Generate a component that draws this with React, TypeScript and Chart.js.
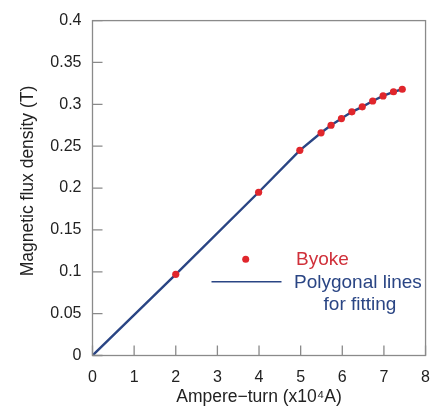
import React, { useEffect, useRef } from "react";
import { Chart, registerables } from "chart.js";

Chart.register(...registerables);

const ampereTurn = [2.0, 3.99, 4.98, 5.49, 5.73, 5.98, 6.23, 6.48, 6.73, 6.98, 7.23, 7.44];
const fluxDensity = [0.097, 0.195, 0.245, 0.266, 0.275, 0.283, 0.291, 0.297, 0.304, 0.31, 0.315, 0.318];
const fitX = [0, 2.0, 3.99, 4.98, 5.49, 5.73, 5.98, 6.23, 6.48, 6.73, 6.98, 7.23, 7.44];
const fitY = [0, 0.097, 0.195, 0.245, 0.266, 0.275, 0.283, 0.291, 0.297, 0.304, 0.31, 0.315, 0.318];
const legendLabels = ["Byoke", "Polygonal lines", "for fitting"];
const xTitle = "Ampere\u2212turn (x10\u2074A)";
const yTitle = "Magnetic flux density (T)";

const RED = "#e0262c";
const NAVY = "#2a4584";
const FONT = "'Liberation Sans', Arial, sans-serif";

const boxPlugin = {
  id: "boxTicks",
  afterDraw(chart: any) {
    const { ctx, chartArea, scales } = chart;
    const { left, right, top, bottom } = chartArea;
    ctx.save();
    ctx.strokeStyle = "#8a8a8a";
    ctx.lineWidth = 1.3;
    ctx.strokeRect(left, top, right - left, bottom - top);
    const tl = 10;
    ctx.beginPath();
    scales.x.ticks.forEach((t: any) => {
      const px = scales.x.getPixelForValue(t.value);
      ctx.moveTo(px, bottom);
      ctx.lineTo(px, bottom - tl);
    });
    scales.y.ticks.forEach((t: any) => {
      const py = scales.y.getPixelForValue(t.value);
      ctx.moveTo(left, py);
      ctx.lineTo(left + tl, py);
    });
    ctx.stroke();

    // axis titles
    ctx.fillStyle = "#222";
    ctx.font = `17.5px ${FONT}`;
    ctx.textAlign = "center";
    ctx.textBaseline = "middle";
    ctx.fillText(xTitle, (left + right) / 2, 397.5);
    ctx.save();
    ctx.translate(28, 181);
    ctx.rotate(-Math.PI / 2);
    ctx.fillText(yTitle, 0, 0);
    ctx.restore();

    // legend
    ctx.fillStyle = RED;
    ctx.beginPath();
    ctx.arc(245.7, 259.3, 3.5, 0, Math.PI * 2);
    ctx.fill();
    ctx.strokeStyle = NAVY;
    ctx.lineWidth = 1.6;
    ctx.beginPath();
    ctx.moveTo(211.5, 281.7);
    ctx.lineTo(281.5, 281.7);
    ctx.stroke();
    ctx.font = `19px ${FONT}`;
    ctx.textBaseline = "middle";
    ctx.textAlign = "left";
    ctx.fillStyle = "#d0303a";
    ctx.fillText(legendLabels[0], 296, 259.5);
    ctx.fillStyle = NAVY;
    ctx.fillText(legendLabels[1], 294, 282.5);
    ctx.textAlign = "center";
    ctx.fillText(legendLabels[2], 360, 305);
    ctx.restore();
  },
};

const fmt = (v: any) => String(Number(Number(v).toFixed(2)));

export default function App() {
  const ref = useRef<HTMLCanvasElement>(null);
  useEffect(() => {
    document.body.style.margin = "0";
    const chart = new Chart(ref.current!, {
      type: "scatter",
      data: {
        datasets: [
          {
            label: "Byoke",
            data: ampereTurn.map((x, i) => ({ x, y: fluxDensity[i] })),
            backgroundColor: RED,
            borderColor: RED,
            pointRadius: 3.6,
            pointBorderWidth: 0,
            showLine: false,
            order: 0,
          },
          {
            label: "Polygonal lines for fitting",
            data: fitX.map((x, i) => ({ x, y: fitY[i] })),
            borderColor: NAVY,
            borderWidth: 2.4,
            pointRadius: 0,
            showLine: true,
            order: 1,
          },
        ],
      },
      options: {
        animation: false,
        responsive: true,
        maintainAspectRatio: false,
        layout: { padding: { top: 17, right: 9.5, left: 0, bottom: 0 } },
        plugins: { legend: { display: false }, tooltip: { enabled: false } },
        scales: {
          x: {
            type: "linear",
            min: 0,
            max: 8,
            afterFit(s: any) {
              s.height = 51.5;
            },
            ticks: { stepSize: 1, padding: 12, color: "#222", font: { family: FONT, size: 16 }, callback: fmt },
            grid: { display: false, drawTicks: false },
            border: { display: false },
            title: { display: false },
          },
          y: {
            type: "linear",
            min: 0,
            max: 0.4,
            afterFit(s: any) {
              s.width = 92.5;
            },
            ticks: { stepSize: 0.05, padding: 11, color: "#222", font: { family: FONT, size: 16 }, callback: fmt },
            grid: { display: false, drawTicks: false },
            border: { display: false },
            title: { display: false },
          },
        },
      },
      plugins: [boxPlugin],
    });
    return () => chart.destroy();
  }, []);
  return (
    <div style={{ position: "absolute", left: 0, top: 0, width: 442, height: 407, background: "#fff" }}>
      <canvas ref={ref} />
    </div>
  );
}
